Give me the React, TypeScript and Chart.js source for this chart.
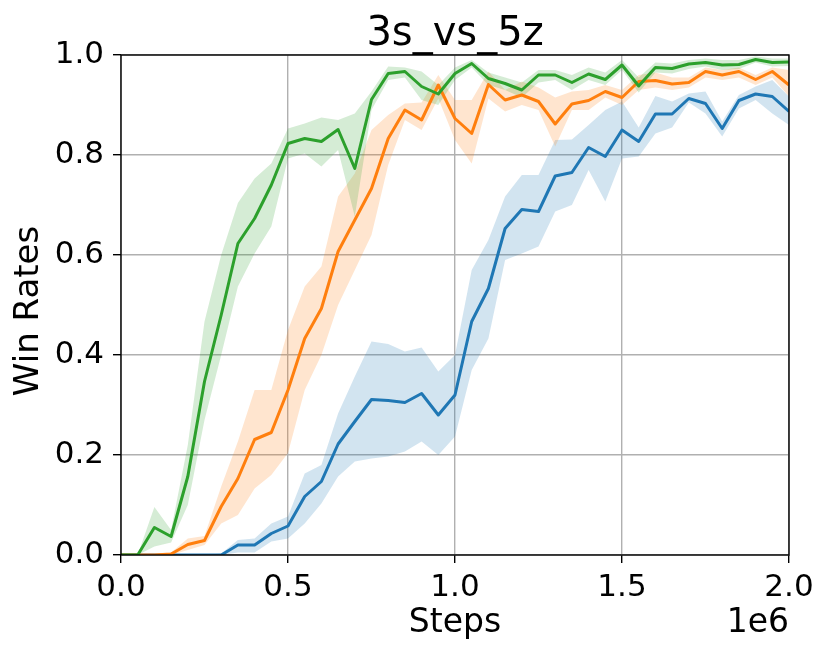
import React, { useEffect, useRef } from "react";
import { Chart, registerables } from "chart.js";

Chart.register(...registerables);

const steps = [0, 0.05, 0.1, 0.15, 0.2, 0.25, 0.3, 0.35, 0.4, 0.45, 0.5, 0.55, 0.6, 0.65, 0.7, 0.75, 0.8, 0.85, 0.9, 0.95, 1.0, 1.05, 1.1, 1.15, 1.2, 1.25, 1.3, 1.35, 1.4, 1.45, 1.5, 1.55, 1.6, 1.65, 1.7, 1.75, 1.8, 1.85, 1.9, 1.95, 2.0];

const blueMean = [0, 0, 0, 0, 0, 0, 0, 0.02, 0.02, 0.043, 0.058, 0.117, 0.147, 0.222, 0.267, 0.311, 0.309, 0.305, 0.323, 0.28, 0.32, 0.467, 0.533, 0.653, 0.691, 0.687, 0.758, 0.765, 0.815, 0.797, 0.85, 0.827, 0.882, 0.882, 0.913, 0.903, 0.853, 0.909, 0.922, 0.917, 0.887];
const blueUpper = [0, 0, 0, 0, 0, 0, 0.003, 0.03, 0.033, 0.063, 0.077, 0.163, 0.18, 0.283, 0.357, 0.427, 0.422, 0.407, 0.415, 0.367, 0.4, 0.57, 0.63, 0.717, 0.76, 0.76, 0.83, 0.831, 0.86, 0.89, 0.907, 0.855, 0.918, 0.907, 0.923, 0.927, 0.867, 0.92, 0.937, 0.95, 0.917];
const blueLower = [0, 0, 0, 0, 0, 0, 0, 0.005, 0.005, 0.027, 0.033, 0.063, 0.103, 0.157, 0.187, 0.193, 0.197, 0.207, 0.227, 0.2, 0.237, 0.37, 0.433, 0.59, 0.603, 0.617, 0.687, 0.7, 0.77, 0.707, 0.793, 0.797, 0.843, 0.855, 0.905, 0.883, 0.837, 0.893, 0.91, 0.883, 0.86];

const orangeMean = [0, 0, 0, 0.002, 0.021, 0.029, 0.097, 0.153, 0.231, 0.245, 0.33, 0.433, 0.493, 0.607, 0.67, 0.733, 0.833, 0.89, 0.87, 0.94, 0.873, 0.843, 0.941, 0.91, 0.92, 0.907, 0.862, 0.902, 0.909, 0.927, 0.915, 0.947, 0.949, 0.942, 0.945, 0.967, 0.96, 0.967, 0.951, 0.967, 0.94];
const orangeUpper = [0, 0, 0, 0.005, 0.033, 0.038, 0.137, 0.227, 0.33, 0.33, 0.45, 0.537, 0.577, 0.717, 0.763, 0.85, 0.88, 0.903, 0.905, 0.96, 0.91, 0.91, 0.967, 0.93, 0.947, 0.935, 0.915, 0.927, 0.93, 0.94, 0.93, 0.96, 0.965, 0.955, 0.955, 0.975, 0.97, 0.975, 0.96, 0.975, 0.97];
const orangeLower = [0, 0, 0, 0, 0.01, 0.02, 0.063, 0.08, 0.133, 0.16, 0.204, 0.33, 0.4, 0.5, 0.57, 0.64, 0.78, 0.87, 0.85, 0.913, 0.83, 0.783, 0.913, 0.887, 0.9, 0.89, 0.817, 0.89, 0.89, 0.915, 0.9, 0.93, 0.935, 0.93, 0.935, 0.955, 0.95, 0.955, 0.94, 0.955, 0.917];

const greenMean = [0, 0, 0.055, 0.037, 0.157, 0.347, 0.48, 0.623, 0.673, 0.74, 0.823, 0.833, 0.827, 0.851, 0.773, 0.911, 0.963, 0.967, 0.937, 0.922, 0.963, 0.983, 0.953, 0.943, 0.93, 0.96, 0.96, 0.945, 0.962, 0.951, 0.98, 0.938, 0.975, 0.973, 0.982, 0.985, 0.98, 0.981, 0.991, 0.985, 0.986];
const greenUpper = [0, 0, 0.096, 0.05, 0.22, 0.467, 0.6, 0.704, 0.753, 0.783, 0.853, 0.863, 0.875, 0.87, 0.883, 0.927, 0.977, 0.975, 0.967, 0.94, 0.975, 0.99, 0.965, 0.955, 0.945, 0.97, 0.97, 0.96, 0.975, 0.965, 0.99, 0.955, 0.985, 0.983, 0.99, 0.993, 0.99, 0.99, 0.997, 0.993, 0.993];
const greenLower = [0, 0, 0.017, 0.025, 0.1, 0.27, 0.4, 0.537, 0.603, 0.657, 0.793, 0.803, 0.777, 0.81, 0.677, 0.89, 0.95, 0.955, 0.91, 0.9, 0.95, 0.975, 0.94, 0.93, 0.915, 0.945, 0.95, 0.93, 0.95, 0.94, 0.97, 0.925, 0.965, 0.963, 0.972, 0.977, 0.97, 0.972, 0.985, 0.977, 0.978];

const xTicks = [0, 0.5, 1.0, 1.5, 2.0];
const yTicks = [0, 0.2, 0.4, 0.6, 0.8, 1.0];

const TITLE = "3s_vs_5z";
const X_LABEL = "Steps";
const Y_LABEL = "Win Rates";
const X_OFFSET = "1e6";

const FONT = "'DejaVu Sans', sans-serif";

const toPts = (ys: number[]) => steps.map((x, i) => ({ x, y: ys[i] }));

const series = [
  { mean: blueMean, upper: blueUpper, lower: blueLower, color: "#1f77b4", fill: "rgba(31,119,180,0.2)", order: 2 },
  { mean: orangeMean, upper: orangeUpper, lower: orangeLower, color: "#ff7f0e", fill: "rgba(255,127,14,0.2)", order: 1 },
  { mean: greenMean, upper: greenUpper, lower: greenLower, color: "#2ca02c", fill: "rgba(44,160,44,0.2)", order: 0 },
];

const textPlugin = {
  id: "mplText",
  afterDraw(chart: any) {
    const { ctx, chartArea } = chart;
    ctx.save();
    ctx.strokeStyle = "#000";
    ctx.lineWidth = 1.4;
    ctx.strokeRect(chartArea.left, chartArea.top, chartArea.right - chartArea.left, chartArea.bottom - chartArea.top);
    ctx.fillStyle = "#000";
    ctx.textBaseline = "alphabetic";
    ctx.font = `40px ${FONT}`;
    ctx.textAlign = "center";
    ctx.fillText(TITLE, (chartArea.left + chartArea.right) / 2, 45);
    ctx.font = `33px ${FONT}`;
    ctx.fillText(X_LABEL, (chartArea.left + chartArea.right) / 2, 632);
    ctx.textAlign = "right";
    ctx.fillText(X_OFFSET, chartArea.right, 632);
    ctx.font = `34px ${FONT}`;
    ctx.translate(38, 311);
    ctx.rotate(-Math.PI / 2);
    ctx.textAlign = "center";
    ctx.fillText(Y_LABEL, 0, 0);
    ctx.restore();
  },
};

export default function App() {
  const ref = useRef<HTMLCanvasElement | null>(null);
  useEffect(() => {
    if (!ref.current) return;
    const datasets: any[] = [];
    series.forEach((s) => {
      const idx = datasets.length;
      datasets.push({
        data: toPts(s.upper),
        borderWidth: 0,
        pointRadius: 0,
        backgroundColor: s.fill,
        fill: { target: idx + 1 },
        order: 10 + s.order,
      });
      datasets.push({
        data: toPts(s.lower),
        borderWidth: 0,
        pointRadius: 0,
        fill: false,
        order: 10 + s.order,
      });
    });
    series.forEach((s) => {
      datasets.push({
        data: toPts(s.mean),
        borderColor: s.color,
        borderWidth: 3,
        pointRadius: 0,
        fill: false,
        order: s.order,
        borderJoinStyle: "round",
        borderCapStyle: "butt",
      });
    });
    const chart = new Chart(ref.current, {
      type: "line",
      data: { datasets },
      options: {
        animation: false,
        responsive: false,
        maintainAspectRatio: false,
        devicePixelRatio: 1,
        layout: { padding: { left: 0, right: 41, top: 55, bottom: 0 } },
        plugins: {
          legend: { display: false },
          tooltip: { enabled: false },
          title: { display: false },
          filler: { drawTime: "beforeDatasetsDraw" },
        },
        scales: {
          x: {
            type: "linear",
            min: 0,
            max: 2.0,
            afterBuildTicks: (axis: any) => {
              axis.ticks = xTicks.map((v) => ({ value: v }));
            },
            afterFit: (axis: any) => {
              axis.height = 99;
            },
            ticks: {
              color: "#000",
              font: { family: FONT, size: 31 },
              padding: 6,
              maxRotation: 0,
              autoSkip: false,
              callback: (v: any) => Number(v).toFixed(1),
            },
            grid: {
              color: "#b0b0b0",
              lineWidth: 1.4,
              tickLength: 8,
              tickColor: "#000",
              tickWidth: 1.4,
            },
            border: { display: false },
          },
          y: {
            type: "linear",
            min: 0,
            max: 1.0,
            afterBuildTicks: (axis: any) => {
              axis.ticks = yTicks.map((v) => ({ value: v }));
            },
            afterFit: (axis: any) => {
              axis.width = 121;
            },
            ticks: {
              color: "#000",
              font: { family: FONT, size: 31 },
              padding: 9,
              autoSkip: false,
              callback: (v: any) => Number(v).toFixed(1),
            },
            grid: {
              color: "#b0b0b0",
              lineWidth: 1.4,
              tickLength: 8,
              tickColor: "#000",
              tickWidth: 1.4,
            },
            border: { display: false },
          },
        },
      },
      plugins: [textPlugin],
    });
    return () => chart.destroy();
  }, []);
  return (
    <div style={{ position: "absolute", left: 0, top: 0, width: 830, height: 654, background: "#fff" }}>
      <canvas ref={ref} width={830} height={654} style={{ width: 830, height: 654, display: "block" }} />
    </div>
  );
}
